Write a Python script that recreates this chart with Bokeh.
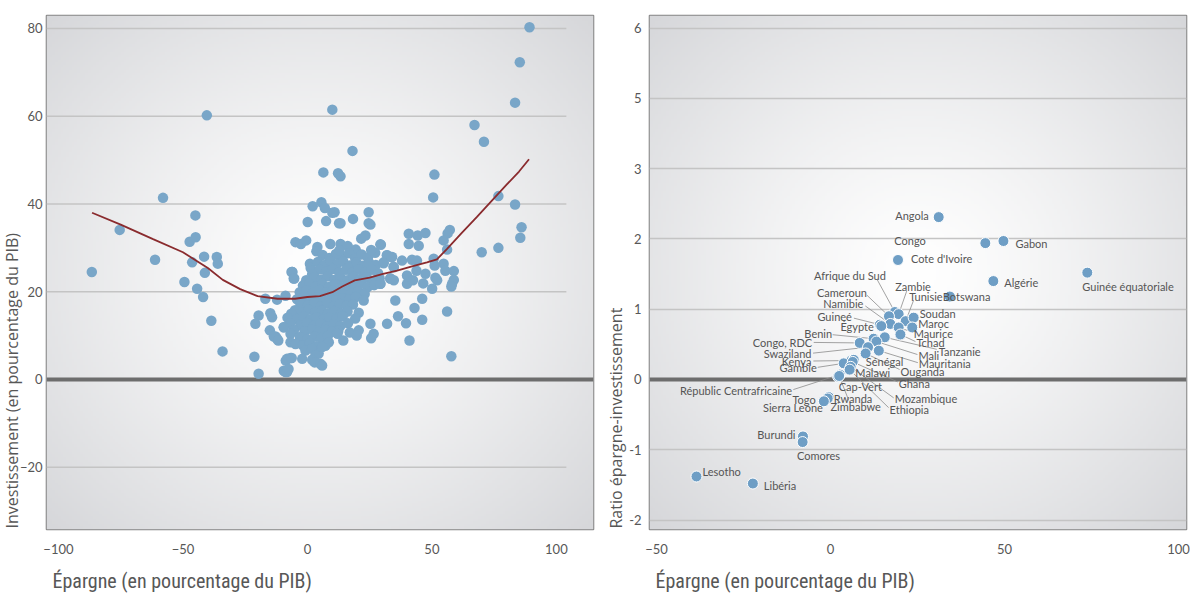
import numpy as np
from bokeh.plotting import figure
from bokeh.models import FixedTicker, Span, ColumnDataSource, Title
from bokeh.layouts import row
from bokeh.embed import file_html
from bokeh.resources import INLINE
from bokeh.core.properties import value

# ---------------- LEFT PANEL DATA (savings vs investment, % of GDP) ----------------
outer_sav = [-86.6, -75.4, -61.2, -58.0, -49.4, -47.3, -44.9, -45.0, -46.3, -44.3, -41.9, -40.4,
             -41.5, -41.2, -38.6, -36.4, -36.0, -34.1]
outer_inv = [24.5, 34.1, 27.3, 41.4, 22.2, 31.4, 32.4, 37.4, 26.7, 20.7, 18.8, 60.2,
             28.0, 24.3, 13.4, 27.9, 26.4, 6.4]

upper_sav = [10.0, 18.1, 6.4, 12.3, 13.3, 5.6, 2.1, 7.0, 10.0, 10.9, 0.1, 7.5, 12.7, 25.3,
             67.1, 70.9, 83.4, 85.3, 89.2, 76.7, 83.4, 86.0, 85.5, 76.7, 70.0, 50.5, 51.0]
upper_inv = [61.5, 52.1, 47.2, 47.0, 46.3, 40.4, 39.5, 39.1, 38.0, 38.1, 35.9, 36.1, 35.6, 35.3,
             58.0, 54.2, 63.1, 72.3, 80.3, 41.8, 39.9, 34.7, 32.3, 30.0, 29.0, 41.5, 46.7]

east_sav = [24.6, 18.3, 24.6, 13.3, 57.2, 56.3, 40.7, 44.3, 47.4, 40.7, 44.7, 54.7, 56.1, 29.3,
            32.0, 34.0, 38.0, 42.0, 44.0, 30.6, 34.7, 50.7, 51.1, 54.7, 55.4, 43.8, 40.0, 58.8,
            47.4, 51.4, 52.1, 58.8, 58.1, 57.8, 33.3, 29.3, 40.0, 42.4, 46.5, 50.1, 35.3, 46.1,
            43.0, 56.1, 36.4, 46.1, 39.6, 32.0, 41.0, 57.8]
east_inv = [38.1, 36.6, 35.6, 35.6, 34.1, 33.3, 33.2, 32.8, 33.4, 30.9, 30.5, 31.7, 29.6, 30.8,
            28.3, 27.9, 27.1, 27.3, 27.1, 26.7, 25.6, 27.5, 26.0, 26.4, 24.8, 24.8, 23.7, 24.7,
            24.1, 23.2, 22.6, 22.7, 21.8, 21.2, 23.0, 21.8, 21.8, 22.6, 21.9, 20.7, 18.0, 18.4,
            16.3, 15.5, 14.4, 13.6, 12.8, 12.7, 8.9, 5.3]

west_sav = [-16.9, -12.2, -8.8, -19.6, -20.9, -14.9, -14.2, -15.1, -12.8, -9.5, -5.5, -21.3,
            -19.6, -6.1, -5.5, -6.4]
west_inv = [18.4, 18.2, 19.1, 14.6, 12.7, 15.1, 14.2, 11.2, 9.8, 11.9, 11.2, 5.2,
            1.3, 24.5, 23.0, 24.5]

core_sav = [-4.8, -2.6, -0.5, 4.0, 3.6, 9.2, 13.3, 16.2, 21.6, 23.3, 19.4, 29.5,
            6.1, 8.8, 11.4, 14.1, 16.7, 19.2, 21.8, 24.3, 27.2, 25.6, 31.9, 33.7, 12.8,
            1.0, 1.3, 4.2, 6.9, 9.4, 11.9, 14.4, 17.0, 19.7, 22.3, 24.8, 27.5, 30.6, 34.6,
            -6.1, 2.2, 5.0, 7.7, 10.3, 12.8, 15.5, 18.0, 20.6, 23.2, 25.9, 28.4, 1.9,
            -5.3, -0.5, 3.0, 5.6, 8.2, 10.8, 13.4, 16.0, 18.6, 21.1, 23.8, 26.4, 29.0, 33.3, 34.7,
            -1.8, 0.8, 3.4, 6.0, 8.6, 11.2, 13.8, 16.4, 19.0, 21.6, 24.2, 26.8, 29.3,
            -3.1, -0.4, 2.2, 4.8, 7.4, 10.0, 12.6, 15.2, 17.8, 20.4, 23.0,
            -4.2, -1.4, 1.2, 3.8, 6.4, 9.0, 11.6, 14.2, 16.8, 19.4, 22.6,
            -2.8, 0.1, 2.7, 5.3, 7.9, 10.5, 13.1, 15.7, 18.3,
            -5.0, -6.5, -2.1, 0.5, 3.1, 5.7, 8.3, 10.9, 13.5, 16.1, 20.6,
            -8.0, -4.4, -1.6, 1.1, 3.7, 6.3, 8.9, 11.6, 14.2, 19.2,
            -7.0, -2.9, -0.1, 2.6, 5.2, 7.8, 10.4, 13.2, 16.3, 25.3,
            -9.5, -5.5, -1.1, 2.0, 4.6, 7.2, 9.9, 12.4, 17.0, 20.6,
            -12.2, -13.5, -6.8, -3.0, 0.0, 3.0, 5.5, 8.2, 12.1, 14.4, 19.8, 26.6, 25.6,
            -11.7, -6.8, -4.8, -1.9, 1.0, 3.6, 7.2, 8.6,
            -0.8, 1.9, 4.5, 5.9, 3.2,
            -8.2, -6.8, -8.7, -6.3, -2.1, 1.9, 2.9, 5.2, 5.9,
            -9.5, -8.8, -8.2, -7.6]
core_inv = [31.3, 30.9, 31.7, 30.2, 29.2, 30.9, 30.9, 30.4, 32.1, 32.8, 29.6, 30.7,
            28.4, 27.7, 28.6, 27.9, 28.8, 27.6, 28.5, 27.8, 28.9, 29.5, 28.3, 27.9, 29.4,
            26.4, 25.4, 26.8, 26.1, 27.0, 26.3, 26.9, 26.0, 26.7, 25.9, 26.6, 26.1, 26.5, 25.7,
            24.5, 24.8, 25.1, 24.6, 25.2, 24.4, 25.0, 24.3, 25.1, 24.5, 25.0, 24.2, 24.0,
            23.0, 22.6, 23.3, 22.8, 23.5, 22.7, 23.2, 22.6, 23.4, 22.9, 23.3, 22.5, 23.1, 23.0, 22.6,
            21.4, 21.9, 21.2, 21.8, 21.1, 21.7, 21.0, 21.6, 21.2, 21.8, 21.1, 21.5, 21.8,
            19.9, 20.3, 19.7, 20.4, 19.8, 20.2, 19.6, 20.3, 19.7, 20.1, 19.5,
            18.3, 18.8, 18.2, 18.7, 18.1, 18.6, 18.0, 18.5, 18.2, 18.8, 18.0,
            17.2, 16.8, 17.4, 16.7, 17.3, 16.6, 17.2, 16.8, 17.1,
            15.8, 15.0, 15.3, 15.9, 15.2, 15.7, 15.1, 15.6, 15.0, 15.5, 15.2,
            14.1, 13.8, 14.3, 13.7, 14.2, 13.6, 14.1, 13.8, 14.4, 13.9,
            12.8, 12.3, 12.9, 12.2, 12.7, 12.1, 12.6, 12.2, 12.8, 12.7,
            11.9, 11.2, 11.0, 11.4, 10.8, 11.3, 10.9, 11.1, 10.7, 11.2,
            9.3, 9.8, 10.4, 9.7, 9.2, 9.8, 9.4, 9.9, 10.4, 8.9, 10.0, 10.4, 9.4,
            8.9, 8.5, 8.1, 7.8, 8.3, 7.6, 7.7, 8.5,
            6.6, 7.0, 5.9, 7.4, 5.5,
            4.7, 4.9, 4.3, 4.9, 4.7, 4.5, 3.9, 3.6, 3.2,
            2.0, 1.7, 1.7, 2.4]

trend_sav = [-86.5, -75, -62, -50, -40, -34, -27, -20, -12, -5, 0, 5, 10, 14, 19, 25, 30,
             36, 42, 48, 52, 56, 62, 68, 74, 80, 85, 89]
trend_inv = [38.0, 35.3, 32.0, 29.0, 25.4, 22.7, 20.6, 19.0, 18.4, 18.4, 18.8, 19.0, 19.9,
             21.2, 22.6, 23.2, 24.0, 24.8, 25.8, 26.7, 27.4, 29.7, 33.4, 37.0, 40.7, 44.4, 47.4, 50.2]

left_xticks = [-100, -50, 0, 50, 100]
left_yticks = [-20, 0, 20, 40, 60, 80]

# ---------------- RIGHT PANEL DATA (saving-investment ratio) ----------------
countries = ["Angola", "Congo", "Gabon", "Cote d'Ivoire", "Algérie", "Guinée équatoriale",
             "Botswana", "Afrique du Sud", "Zambie", "Tunisie", "Cameroun", "Namibie",
             "Soudan", "Maroc", "Maurice", "Tchad", "Tanzanie", "Guineé", "Égypte", "Benin",
             "Mali", "Mauritania", "Congo, RDC", "Swaziland", "Kenya", "Gambie", "Sénégal",
             "Ouganda", "Malawi", "Ghana", "Républic Centrafricaine", "Cap-Vert", "Mozambique",
             "Ethiopia", "Zimbabwe", "Rwanda", "Togo", "Sierra Leone", "Burundi", "Comores",
             "Lesotho", "Libéria"]
country_sav = [31.1, 44.5, 49.7, 19.4, 46.8, 73.8, 34.3, 18.5, 19.6, 21.6, 16.8, 17.2,
               23.9, 23.5, 19.6, 20.1, 15.6, 14.2, 14.6, 12.4, 13.2, 13.9, 8.4, 10.8, 6.0,
               3.8, 6.7, 10.1, 6.0, 6.4, 2.7, 2.2, 5.8, 5.5, 2.5, -0.5, -0.8, -1.9, -7.9,
               -8.0, -38.5, -22.3]
country_ratio = [2.31, 1.94, 1.97, 1.70, 1.40, 1.52, 1.18, 0.96, 0.93, 0.83, 0.90, 0.79,
                 0.88, 0.74, 0.74, 0.64, 0.60, 0.78, 0.76, 0.58, 0.54, 0.41, 0.52, 0.46,
                 0.27, 0.23, 0.28, 0.37, 0.16, 0.25, 0.07, 0.04, 0.18, 0.14, 0.05, -0.25,
                 -0.27, -0.31, -0.81, -0.89, -1.38, -1.48]

right_xticks = [-50, 0, 50, 100]
right_yticks = [-2, -1, 0, 1, 2, 3, 4, 5]
right_ytick_labels = ["-2", "-1", "0", "1", "2", "3", "5", "6"]

x_title = "Épargne (en pourcentage du PIB)"
left_y_title = "Investissement (en pourcentage du PIB)"
right_y_title = "Ratio épargne-investissement"

# ---------------- STYLE: label offsets (px), alignment, leader lines (px) ----------------
lab_dx = [-10, -91, 12, 13, 11, -5, -7, -9, -3.5, 37, -22, -27, 6, 6, 15, 16, 54, -28, -7.5,
          -41.5, 42, 40, -47.5, -56.6, -40, -27, 12, 35, 4, 46, -47.7, 0.6, 44, 40, -8.7, 5,
          -12, -1, -7.5, -5.7, 6, 11]
lab_dy = [-2, -3, 2, -1, 1, 14, 0, -37, -28, -25, -24, -20, -4, -4, 6, 8, 14, -8, 0, -5.5,
          14, 13, 0, 6, 1, 4, 2, 18, 4, 22, 16, 10, 32, 40, 30.5, 1, 1, 6, -2, 13.4, -5, 2]
lab_align = ["right", "left", "left", "left", "left", "left", "left", "right", "left", "right",
             "right", "right", "left", "left", "left", "left", "left", "right", "right", "right",
             "left", "left", "right", "right", "right", "right", "left", "left", "left", "left",
             "right", "left", "left", "left", "left", "left", "right", "right", "right", "left",
             "left", "left"]
lead = {"Afrique du Sud": (-18, -33), "Zambie": (8, -23), "Tunisie": (8, -21),
        "Cameroun": (-22, -21), "Namibie": (-25, -18), "Maurice": (15, 5), "Tchad": (15, 7),
        "Tanzanie": (52, 12), "Guineé": (-26, -6.5), "Benin": (-41, -4), "Mali": (41, 13),
        "Mauritania": (39, 12), "Congo, RDC": (-46, -0.5), "Swaziland": (-55, 6),
        "Kenya": (-38, 0.5), "Gambie": (-26, 4), "Ouganda": (34, 16), "Ghana": (45, 20),
        "Républic Centrafricaine": (-46.5, 15), "Mozambique": (43, 31), "Ethiopia": (39, 38),
        "Zimbabwe": (9.6, 24.5)}

# ---------------- LAYOUT ----------------
H = 602
TOP, BOTTOM = 15, 73
FRAME_H = H - TOP - BOTTOM
L_W, L_BL, L_BR = 600, 46, 7
R_W, R_BL, R_BR = 590, 49, 4
L_X = (-104.8, 114.9)
L_Y = (-34.19, 82.96)
R_X = (-52.0, 102.3)
R_Y = (-2.134, 5.178)
GRID_END = 104

TICK_FONT = "Lato"
GRAY_TXT = "#575757"
CONDENSED = "'Liberation Sans Narrow', 'Roboto Condensed', 'DejaVu Sans Condensed', sans-serif"


def gradient(nx=200, ny=200):
    u = np.linspace(-1, 1, nx)
    v = np.linspace(-1, 1, ny)
    U, V = np.meshgrid(u, v)
    r = np.clip(np.sqrt(U ** 2 + V ** 2) / np.sqrt(2), 0, 1)
    t = r ** 1.25
    c0 = (255, 255, 255)
    c1 = (214, 215, 218)
    img = np.empty((ny, nx), dtype=np.uint32)
    view = img.view(dtype=np.uint8).reshape((ny, nx, 4))
    for k in range(3):
        view[:, :, k] = (c0[k] * (1 - t) + c1[k] * t).astype(np.uint8)
    view[:, :, 3] = 255
    return img


def base(width, bl, br, xr, yr, xticks, yticks, ylabel, ytick_standoff, ytitle_standoff):
    p = figure(width=width, height=H, x_range=xr, y_range=yr, output_backend="svg",
               toolbar_location=None, min_border_left=bl, min_border_right=br,
               min_border_top=TOP, min_border_bottom=BOTTOM)
    p.background_fill_color = "#e2e3e5"
    p.border_fill_color = "white"
    p.outline_line_color = "#858585"
    p.outline_line_width = 1.6
    p.image_rgba(image=[gradient()], x=xr[0], y=yr[0], dw=xr[1] - xr[0], dh=yr[1] - yr[0],
                 level="image")
    p.xgrid.visible = False
    p.xaxis.ticker = FixedTicker(ticks=xticks)
    p.yaxis.ticker = FixedTicker(ticks=yticks)
    for ax in (p.xaxis[0], p.yaxis[0]):
        ax.axis_line_color = None
        ax.major_tick_line_color = None
        ax.minor_tick_line_color = None
        ax.major_tick_out = 0
        ax.major_tick_in = 0
        ax.minor_tick_out = 0
        ax.minor_tick_in = 0
        ax.major_label_text_font = TICK_FONT
        ax.major_label_text_font_size = "13px"
        ax.major_label_text_color = GRAY_TXT
    p.xaxis.major_label_standoff = 14
    p.yaxis.major_label_standoff = ytick_standoff
    p.add_layout(Span(location=0, dimension="width", line_color="#6d6d6d", line_width=4,
                      level="underlay"))
    # axis titles, aligned to the bottom-left of the frame as in the reference
    p.add_layout(Title(text=x_title, align="left", offset=6, standoff=20,
                       text_font=CONDENSED, text_font_size="20px", text_color=GRAY_TXT,
                       text_font_style="normal"), "below")
    p.add_layout(Title(text=ylabel, align="left", offset=1, standoff=ytitle_standoff,
                       text_font="Open Sans", text_font_size="16px", text_color=GRAY_TXT,
                       text_font_style="normal"), "left")
    fw = width - bl - br
    return p, fw / (xr[1] - xr[0]), FRAME_H / (yr[1] - yr[0])


# ---------------- LEFT FIGURE ----------------
p1, _, _ = base(L_W, L_BL, L_BR, L_X, L_Y, left_xticks, left_yticks, left_y_title, 4, -13)
p1.ygrid.visible = False
grid_levels = [v for v in left_yticks if v != 0]
p1.segment(x0=[L_X[0]] * len(grid_levels), x1=[GRID_END] * len(grid_levels),
           y0=grid_levels, y1=grid_levels, line_color="#c4c4c4", line_width=1.4)
all_sav = outer_sav + upper_sav + east_sav + west_sav + core_sav
all_inv = outer_inv + upper_inv + east_inv + west_inv + core_inv
p1.scatter(all_sav, all_inv, size=10.5, fill_color="#79a6c8", line_color=None)
p1.line(trend_sav, trend_inv, line_color="#8a2b2e", line_width=1.8)

# ---------------- RIGHT FIGURE ----------------
p2, sx, sy = base(R_W, R_BL, R_BR, R_X, R_Y, right_xticks, right_yticks, right_y_title, 8, 0)
p2.ygrid.grid_line_color = "#c4c4c4"
p2.ygrid.grid_line_width = 1.4
p2.yaxis.major_label_overrides = {t: s for t, s in zip(right_yticks, right_ytick_labels)}

x0, y0, x1, y1 = [], [], [], []
for n, xv, yv in zip(countries, country_sav, country_ratio):
    if n in lead:
        ddx, ddy = lead[n]
        x0.append(xv)
        y0.append(yv)
        x1.append(xv + ddx / sx)
        y1.append(yv - ddy / sy)
p2.segment(x0=x0, y0=y0, x1=x1, y1=y1, line_color="#8c8c8c", line_width=0.8)

p2.scatter(country_sav, country_ratio, size=11, fill_color="#6e9ec5", line_color="white",
           line_width=1)

for al in ("left", "right"):
    idx = [i for i, a in enumerate(lab_align) if a == al]
    src = ColumnDataSource(dict(x=[country_sav[i] for i in idx],
                                y=[country_ratio[i] for i in idx],
                                t=[countries[i] for i in idx],
                                dx=[lab_dx[i] for i in idx],
                                dy=[lab_dy[i] for i in idx]))
    p2.text(x="x", y="y", text="t", x_offset="dx", y_offset="dy", source=src,
            text_align=al, text_baseline="middle", text_font=value("Lato"),
            text_font_size="11px", text_color="#555555")

layout = row(p1, p2)
open("out.html", "w").write(file_html(layout, INLINE))
